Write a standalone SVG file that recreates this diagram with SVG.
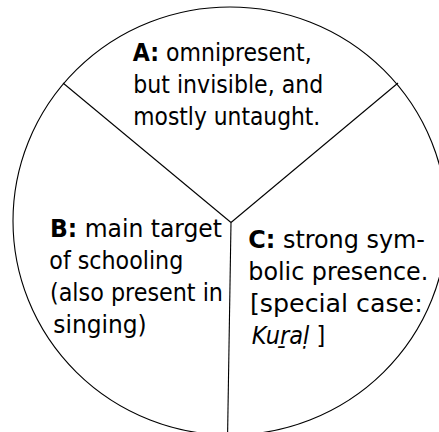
<svg xmlns="http://www.w3.org/2000/svg" width="439" height="432" viewBox="0 0 439 432">
<style>
.bg{fill:#ffffff}
.edge{fill:none;stroke:#000;stroke-width:1.1}
.t{font-family:'DejaVu Sans Condensed','DejaVu Sans',sans-serif;font-size:25px;fill:#000}
.b{font-weight:bold}
.i{font-style:italic}
</style>
<rect class="bg" x="0" y="0" width="439" height="432"/>
<g id="circle">
<ellipse class="edge" cx="230" cy="221" rx="217" ry="214"/>
</g>
<g id="connectors">
<line class="edge" x1="231" y1="222.5" x2="63" y2="83"/>
<line class="edge" x1="231" y1="222.5" x2="398" y2="83"/>
<line class="edge" x1="231" y1="222.5" x2="227.5" y2="440"/>
</g>
<g id="nodeA">
<text class="t" x="132.7" y="61" textLength="179" lengthAdjust="spacingAndGlyphs"><tspan class="b">A:</tspan> omnipresent,</text>
<text class="t" x="133.3" y="93" textLength="190" lengthAdjust="spacingAndGlyphs">but invisible, and</text>
<text class="t" x="133.3" y="125" textLength="187" lengthAdjust="spacingAndGlyphs">mostly untaught.</text>
</g>
<g id="nodeB">
<text class="t" x="50" y="237" textLength="172" lengthAdjust="spacingAndGlyphs"><tspan class="b">B:</tspan> main target</text>
<text class="t" x="49.3" y="269" textLength="134" lengthAdjust="spacingAndGlyphs">of schooling</text>
<text class="t" x="50" y="301" textLength="173" lengthAdjust="spacingAndGlyphs">(also present in</text>
<text class="t" x="53.3" y="333" textLength="93.4" lengthAdjust="spacingAndGlyphs">singing)</text>
</g>
<g id="nodeC">
<text class="t" x="248.3" y="248" textLength="176.7" lengthAdjust="spacingAndGlyphs"><tspan class="b">C:</tspan> strong sym-</text>
<text class="t" x="248.3" y="280" textLength="180" lengthAdjust="spacingAndGlyphs">bolic presence.</text>
<text class="t" x="250" y="312" textLength="172.7" lengthAdjust="spacingAndGlyphs">[special case:</text>
<text class="t" x="251.7" y="344"><tspan class="i">Kuṟaḷ</tspan> ]</text>
</g>
</svg>
